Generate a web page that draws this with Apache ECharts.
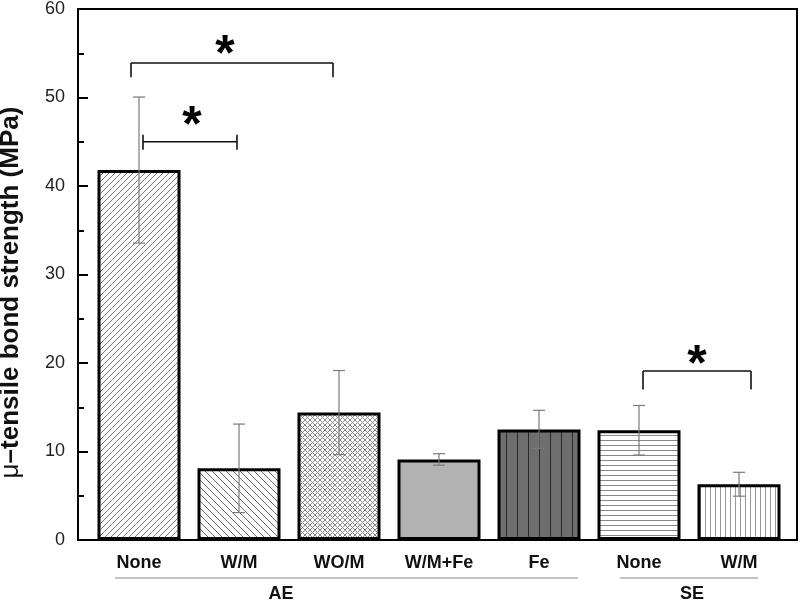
<!DOCTYPE html>
<html>
<head>
<meta charset="utf-8">
<script src="https://cdn.jsdelivr.net/npm/echarts@6/dist/echarts.min.js"></script>
<style>
  html, body { margin: 0; padding: 0; background: #fff; }
  #chart { width: 800px; height: 601px; }
</style>
</head>
<body>
<div id="chart"></div>
<script>
// 数据
const categories = ['None', 'W/M', 'WO/M', 'W/M+Fe', 'Fe', 'None', 'W/M'];
const means = [41.8, 8.1, 14.4, 9.1, 12.5, 12.4, 6.3];
const sds = [8.25, 5.0, 4.75, 0.65, 2.15, 2.8, 1.35];
const yTicks = [0, 10, 20, 30, 40, 50, 60];

// 分组 (AE / SE)
const groupNames = ['AE', 'SE'];
const groupFrom = [-0.24, 4.81];
const groupTo = [4.39, 6.19];
const groupLabelAt = [1.42, 5.53];

// 显著性标记
const sigFrom = [0, 0, 5];
const sigTo = [2, 1, 6];
const sigLineY = [53.9, 45.0, 19.1];
const sigDropY = [52.3, null, 17.0];
const sigStarY = [55.9, 47.9, 20.9];

const FONT = "'Liberation Sans', Arial, sans-serif";

function makePattern(w, h, bg, draw) {
  const c = document.createElement('canvas');
  c.width = w;
  c.height = h;
  const ctx = c.getContext('2d');
  ctx.fillStyle = bg;
  ctx.fillRect(0, 0, w, h);
  draw(ctx, w, h);
  return { image: c, repeat: 'repeat' };
}
function line(ctx, x1, y1, x2, y2) {
  ctx.beginPath();
  ctx.moveTo(x1, y1);
  ctx.lineTo(x2, y2);
  ctx.stroke();
}
function slash(ctx, s) {
  line(ctx, -1, s + 1, s + 1, -1);
  line(ctx, -1, 1, 1, -1);
  line(ctx, s - 1, s + 1, s + 1, s - 1);
}
function backslash(ctx, s) {
  line(ctx, -1, -1, s + 1, s + 1);
  line(ctx, s - 1, -1, s + 1, 1);
  line(ctx, -1, s - 1, 1, s + 1);
}

const fills = [
  makePattern(6, 6, '#fff', (ctx, w) => { ctx.strokeStyle = '#7a7a7a'; ctx.lineWidth = 1; slash(ctx, w); }),
  makePattern(7, 7, '#fff', (ctx, w) => { ctx.strokeStyle = '#6a6a6a'; ctx.lineWidth = 1; backslash(ctx, w); }),
  makePattern(5, 5, '#fff', (ctx, w) => { ctx.strokeStyle = '#8a8a8a'; ctx.lineWidth = 1; slash(ctx, w); backslash(ctx, w); }),
  '#b2b2b2',
  makePattern(11, 4, '#6e6e6e', (ctx) => { ctx.fillStyle = '#2a2a2a'; ctx.fillRect(0, 0, 1, 4); }),
  makePattern(4, 5, '#fff', (ctx) => { ctx.fillStyle = '#888'; ctx.fillRect(0, 0, 4, 1); }),
  makePattern(5, 4, '#fff', (ctx) => { ctx.fillStyle = '#999'; ctx.fillRect(0, 0, 1, 4); })
];

const chart = echarts.init(document.getElementById('chart'));

const option = {
  animation: false,
  backgroundColor: '#fff',
  grid: [
    { left: 78, right: 3, top: 9, bottom: 61, outerBoundsMode: 'none', containLabel: false, show: true, borderColor: '#000', borderWidth: 2, backgroundColor: 'transparent' },
    { left: 89, width: 700, top: 9, bottom: 61, outerBoundsMode: 'none', containLabel: false }
  ],
  xAxis: [
    { gridIndex: 0, type: 'value', min: 0, max: 1, show: false },
    {
      gridIndex: 1,
      type: 'category',
      data: categories,
      axisLine: { show: false },
      axisTick: { show: false },
      axisLabel: { fontFamily: FONT, fontSize: 18, fontWeight: 'bold', color: '#111', margin: 14, interval: 0 }
    }
  ],
  yAxis: [
    {
      gridIndex: 0,
      type: 'value',
      position: 'left',
      min: yTicks[0],
      max: yTicks[yTicks.length - 1],
      interval: 10,
      z: 5,
      splitLine: { show: false },
      axisLine: { show: true, lineStyle: { color: '#000', width: 2 } },
      axisTick: { inside: true, length: 10, lineStyle: { color: '#000', width: 2 } },
      axisLabel: { fontFamily: FONT, fontSize: 18, color: '#222', margin: 13 },
      name: '{m|μ}–tensile bond strength (MPa)',
      nameLocation: 'middle',
      nameRotate: 90,
      nameGap: 54,
      nameTextStyle: {
        fontFamily: FONT, fontSize: 26, fontWeight: 'bold', color: '#111',
        padding: [0, 36, 0, 0],
        rich: { m: { fontFamily: FONT, fontSize: 26, fontWeight: 'normal', color: '#111' } }
      }
    },
    { gridIndex: 1, type: 'value', min: 0, max: 60, show: false },
    {
      // 次刻度
      gridIndex: 0,
      type: 'value',
      position: 'left',
      min: 0,
      max: 60,
      interval: 5,
      z: 4,
      splitLine: { show: false },
      axisLine: { show: false },
      axisLabel: { show: false },
      axisTick: { inside: true, length: 6, lineStyle: { color: '#000', width: 2 } }
    }
  ],
  series: [
    {
      type: 'bar',
      xAxisIndex: 1,
      yAxisIndex: 1,
      barWidth: 83,
      data: means.map((v, i) => ({ value: v, itemStyle: { color: fills[i] } })),
      itemStyle: { borderColor: '#000', borderWidth: 3 },
      z: 2
    },
    {
      // 误差线
      type: 'custom',
      xAxisIndex: 1,
      yAxisIndex: 1,
      data: means.map((v, i) => [i, v - sds[i], v + sds[i]]),
      z: 3,
      renderItem(params, api) {
        const lo = api.coord([api.value(0), api.value(1)]);
        const hi = api.coord([api.value(0), api.value(2)]);
        const cap = 6;
        const st = { stroke: '#7a7a7a', lineWidth: 1.2 };
        return {
          type: 'group',
          children: [
            { type: 'line', shape: { x1: lo[0], y1: lo[1], x2: hi[0], y2: hi[1] }, style: st },
            { type: 'line', shape: { x1: hi[0] - cap, y1: hi[1], x2: hi[0] + cap, y2: hi[1] }, style: st },
            { type: 'line', shape: { x1: lo[0] - cap, y1: lo[1], x2: lo[0] + cap, y2: lo[1] }, style: st }
          ]
        };
      }
    },
    {
      // 显著性括号
      type: 'custom',
      xAxisIndex: 1,
      yAxisIndex: 1,
      clip: false,
      data: sigFrom.map((f, i) => [f, sigTo[i], sigLineY[i], sigDropY[i] == null ? NaN : sigDropY[i], sigStarY[i], i]),
      z: 4,
      renderItem(params, api) {
        const offs = [[-0.08, -0.06, -0.07], [0.04, -0.02, 0.02], [0.04, 0.12, 0]];
        const band = api.size([1, 0])[0];
        const k = api.value(5);
        const a = api.coord([api.value(0), api.value(2)]);
        const b = api.coord([api.value(1), api.value(2)]);
        const x1 = a[0] + offs[k][0] * band;
        const x2 = b[0] + offs[k][1] * band;
        const y = a[1];
        const st = { stroke: '#111', lineWidth: 1.6 };
        const kids = [{ type: 'line', shape: { x1: x1, y1: y, x2: x2, y2: y }, style: st }];
        const drop = api.value(3);
        if (isNaN(drop)) {
          kids.push({ type: 'line', shape: { x1: x1, y1: y - 7, x2: x1, y2: y + 8 }, style: st });
          kids.push({ type: 'line', shape: { x1: x2, y1: y - 7, x2: x2, y2: y + 8 }, style: st });
        } else {
          const yd = api.coord([api.value(0), drop])[1];
          kids.push({ type: 'line', shape: { x1: x1, y1: y, x2: x1, y2: yd }, style: st });
          kids.push({ type: 'line', shape: { x1: x2, y1: y, x2: x2, y2: yd }, style: st });
        }
        const sy = api.coord([api.value(0), api.value(4)])[1];
        kids.push({
          type: 'text',
          style: {
            text: '*', x: (x1 + x2) / 2 + offs[k][2] * band, y: sy + 11,
            font: 'bold 50px ' + FONT, fill: '#000', align: 'center', verticalAlign: 'middle'
          }
        });
        return { type: 'group', children: kids };
      }
    },
    {
      // 分组标签
      type: 'custom',
      xAxisIndex: 1,
      yAxisIndex: 1,
      clip: false,
      data: groupNames.map((n, i) => [groupFrom[i], groupTo[i], groupLabelAt[i], i]),
      renderItem(params, api) {
        const band = api.size([1, 0])[0];
        const o = api.coord([0, 0]);
        const i = api.value(3);
        const xa = o[0] + api.value(0) * band;
        const xb = o[0] + api.value(1) * band;
        const xt = o[0] + api.value(2) * band;
        return {
          type: 'group',
          children: [
            { type: 'line', shape: { x1: xa, y1: o[1] + 38, x2: xb, y2: o[1] + 38 }, style: { stroke: '#888', lineWidth: 1.2 } },
            {
              type: 'text',
              style: {
                text: groupNames[i], x: xt, y: o[1] + 54,
                font: 'bold 18px ' + FONT, fill: '#111', align: 'center', verticalAlign: 'middle'
              }
            }
          ]
        };
      }
    }
  ]
};

chart.setOption(option);
</script>
</body>
</html>
